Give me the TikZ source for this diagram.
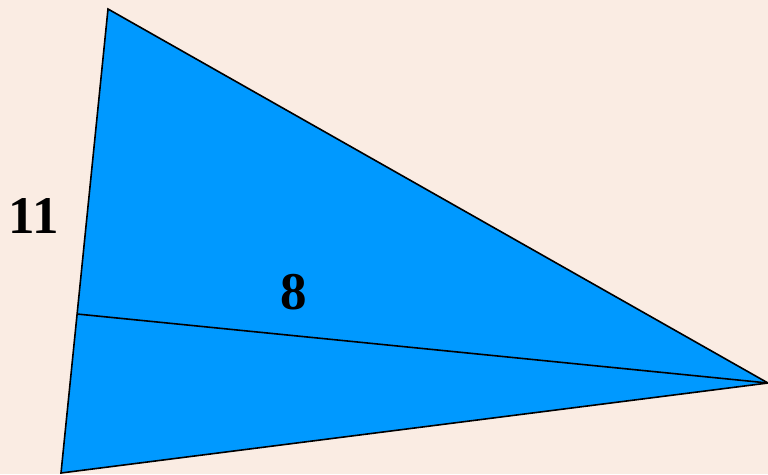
\documentclass[tikz,border=0pt]{standalone}
\usepackage{fontspec}
\setmainfont{Liberation Serif}
\definecolor{bgpeach}{HTML}{FAECE3}
\definecolor{triblue}{HTML}{0099FF}
\begin{document}
\begin{tikzpicture}[x=1pt,y=-1pt,
  edge/.style={draw=black,line width=1.6pt,line join=miter},
  lbl/.style={font=\fontsize{53}{60}\selectfont\bfseries,inner sep=0pt}]
\fill[bgpeach] (0,0) rectangle (768,474);
\useasboundingbox (0,0) rectangle (768,474);
\coordinate (T) at (108,9);
\coordinate (R) at (768,383);
\coordinate (B) at (61,473);
\coordinate (M) at (77,314);
\filldraw[fill=triblue,edge] (T) -- (R) -- (B) -- cycle;
\draw[edge] (M) -- (R);
\node[lbl] (n11) at (34,216) {11};
\node[lbl] (n8) at (294,292) {8};
\end{tikzpicture}
\end{document}
